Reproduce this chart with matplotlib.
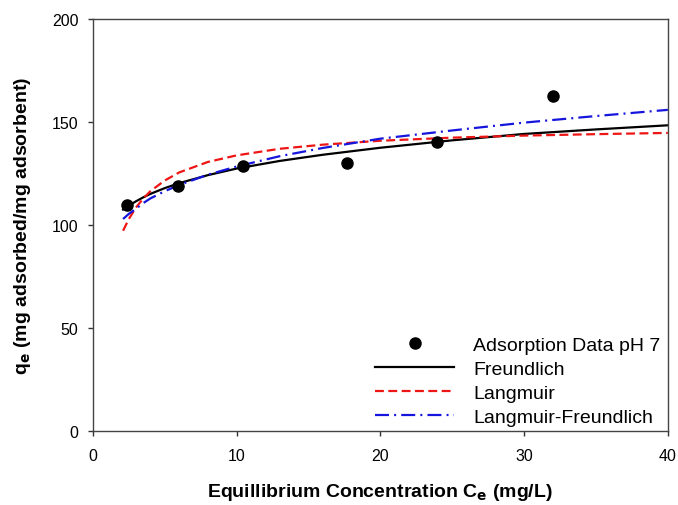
import matplotlib.pyplot as plt

plt.rcParams['font.family'] = ['Liberation Sans', 'DejaVu Sans']

# measured data
ce_data = [2.4, 5.9, 10.45, 17.65, 23.95, 32.0]
qe_data = [109.8, 119.1, 128.8, 130.4, 140.4, 162.8]

# model curves
ce_fit = [2.1, 2.5, 3, 3.5, 4, 5, 6, 8, 10, 13, 16, 20, 25, 30, 35, 40]
qe_freundlich = [107.6, 109.5, 111.6, 113.5, 115.2, 118.0, 120.4, 124.3, 127.5,
                 131.2, 134.2, 137.6, 141.2, 144.3, 146.5, 148.5]
qe_langmuir = [97.3, 103.0, 108.6, 112.9, 116.5, 121.7, 125.6, 130.7, 133.9,
               137.1, 139.1, 141.0, 142.5, 143.5, 144.2, 144.8]
qe_lf = [103.0, 105.5, 108.0, 110.7, 113.0, 116.5, 119.5, 124.5, 128.5,
         133.5, 137.5, 142.0, 146.0, 149.8, 153.0, 156.0]

fig = plt.figure(figsize=(6.78, 5.06), dpi=100)
ax = fig.add_axes([0.137, 0.146, 0.848, 0.814])

ax.plot(ce_data, qe_data, 'o', color='black', markersize=8, label='Adsorption Data pH 7', zorder=5)
ax.plot(ce_fit, qe_freundlich, '-', color='black', lw=1.6, label='Freundlich')
ax.plot(ce_fit, qe_langmuir, color='#ee1515', lw=1.6, dashes=(4, 2), label='Langmuir')
ax.plot(ce_fit, qe_lf, color='#1515dd', lw=1.6, dashes=(6.3, 2.3, 0.9, 2.3), label='Langmuir-Freundlich')

ax.set_xlim(0, 40)
ax.set_ylim(0, 200)
ax.set_xticks([0, 10, 20, 30, 40])
ax.set_yticks([0, 50, 100, 150, 200])
ax.tick_params(direction='out', length=3.8, width=1, labelsize=11.5, color='#333333')
ax.tick_params(axis='x', pad=8)
ax.tick_params(axis='y', pad=6.5)
for s in ax.spines.values():
    s.set_color('#444444')
    s.set_linewidth(1)

ax.set_xlabel('Equillibrium Concentration C$_\\mathbf{e}$ (mg/L)', fontsize=14, fontweight='bold', labelpad=13.5)
ax.set_ylabel('q$_\\mathbf{e}$ (mg adsorbed/mg adsorbent)', fontsize=14, fontweight='bold', labelpad=13.5)

ax.legend(loc='lower right', bbox_to_anchor=(0.996, 0.0), frameon=False, fontsize=14,
          handlelength=4.05, handletextpad=1.0, labelspacing=0.33,
          borderaxespad=0.0, borderpad=0.25)

plt.savefig('out.png', dpi=100)
